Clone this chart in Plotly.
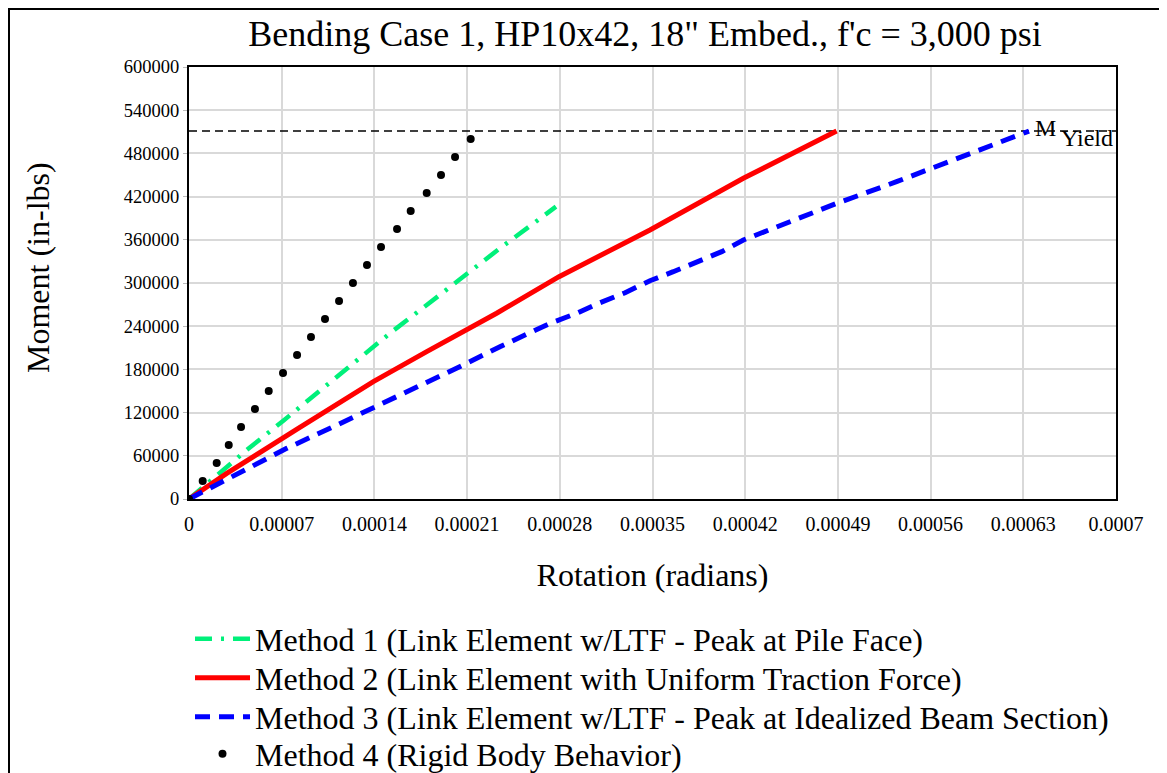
import plotly.graph_objects as go

# ---- data ----
m1_rot = [0, 4.36e-5, 7.12e-5, 1.523e-4, 1.795e-4, 2.341e-4, 2.771e-4]
m1_mom = [0, 68000, 108700, 231000, 269400, 347200, 406000]

m2_rot = [0, 2.85e-5, 8.13e-5, 1.392e-4, 1.795e-4, 2.323e-4, 2.794e-4, 3.481e-4, 4.186e-4, 4.362e-4, 4.89e-4]
m2_mom = [0, 35600, 96800, 163000, 204600, 258000, 308800, 373600, 445400, 461600, 511000]

m3_rot = [0, 1.84e-5, 3.85e-5, 7.38e-5, 1.09e-4, 1.442e-4, 1.694e-4, 2.071e-4, 2.348e-4, 2.726e-4,
          2.927e-4, 3.103e-4, 3.293e-4, 3.481e-4, 3.657e-4, 3.834e-4, 4.023e-4, 4.186e-4, 4.891e-4,
          5.343e-4, 5.797e-4, 6.25e-4, 6.343e-4]
m3_mom = [0, 17100, 35700, 70400, 100400, 130600, 153700, 186100, 211500, 244000,
          257900, 272600, 286500, 303200, 315700, 329600, 343500, 359700, 410600,
          440700, 473200, 505600, 511000]

m4_rot = [0, 1.034e-5, 2.09e-5, 3.0e-5, 3.93e-5, 4.98e-5, 6.02e-5, 7.10e-5, 8.16e-5, 9.21e-5,
          1.027e-4, 1.133e-4, 1.238e-4, 1.344e-4, 1.450e-4, 1.571e-4, 1.674e-4, 1.795e-4,
          1.903e-4, 2.009e-4, 2.127e-4]
m4_mom = [0, 25000, 50000, 75000, 100000, 125000, 150000, 175000, 200000, 225000,
          250000, 275000, 300000, 325000, 350000, 375000, 400000, 425000,
          450000, 475000, 500000]

m_yield = 511000
x_range = [0, 0.0007]

x_tickvals = [0, 0.00007, 0.00014, 0.00021, 0.00028, 0.00035, 0.00042, 0.00049, 0.00056, 0.00063, 0.0007]
x_ticktext = ["0", "0.00007", "0.00014", "0.00021", "0.00028", "0.00035", "0.00042",
              "0.00049", "0.00056", "0.00063", "0.0007"]
y_tickvals = [0, 60000, 120000, 180000, 240000, 300000, 360000, 420000, 480000, 540000, 600000]
y_ticktext = [str(v) for v in y_tickvals]

names = [
    "Method 1 (Link Element w/LTF - Peak at Pile Face)",
    "Method 2 (Link Element with Uniform Traction Force)",
    "Method 3 (Link Element w/LTF - Peak at Idealized Beam Section)",
    "Method 4 (Rigid Body Behavior)",
]

FONT = "Liberation Serif"
W, H = 1159, 765          # page body has an 8px margin
L, R, T, B = 181, 51, 59, 274
PH = H - T - B

fig = go.Figure()

fig.add_trace(go.Scatter(x=x_range, y=[m_yield, m_yield], mode="lines",
                         line=dict(color="black", width=1.5, dash="8px,5px"),
                         showlegend=False, hoverinfo="skip"))

fig.add_trace(go.Scatter(x=m1_rot, y=m1_mom, mode="lines", name=names[0], legend="legend",
                         line=dict(color="#00F07A", width=4.5, dash="17px,9px,3px,9px")))
fig.add_trace(go.Scatter(x=m2_rot, y=m2_mom, mode="lines", name=names[1], legend="legend2",
                         line=dict(color="#FF0000", width=5)))
fig.add_trace(go.Scatter(x=m3_rot, y=m3_mom, mode="lines", name=names[2], legend="legend3",
                         line=dict(color="#0000FF", width=5, dash="15px,9px")))
fig.add_trace(go.Scatter(x=m4_rot, y=m4_mom, mode="markers", name=names[3], legend="legend4",
                         marker=dict(color="black", size=8)))

# M_Yield label
fig.add_annotation(x=0.000636, y=m_yield, xref="x", yref="y", xanchor="left", yanchor="middle",
                   text="M", showarrow=False, xshift=2, yshift=3,
                   font=dict(family=FONT, size=24, color="black"))
fig.add_annotation(x=0.000636, y=m_yield, xref="x", yref="y", xanchor="left", yanchor="middle",
                   text="Yield", showarrow=False, xshift=28, yshift=-7,
                   font=dict(family=FONT, size=24, color="black"))

# y-axis title
fig.add_annotation(x=(30 - L) / (W - L - R), y=(T + PH - 260) / PH, xref="paper", yref="paper",
                   text="Moment (in-lbs)", textangle=-90, showarrow=False,
                   xanchor="center", yanchor="middle",
                   font=dict(family=FONT, size=32, color="black"))

# outer frame of the picture
fig.add_shape(type="rect", xref="paper", yref="paper",
              x0=(1 - L) / (W - L - R), x1=1.08, y0=-0.7, y1=1 + (T - 1) / PH,
              line=dict(color="black", width=2), layer="below")

leg_common = dict(x=(182 - L) / (W - L - R), xanchor="left", yanchor="middle", yref="container",
                  font=dict(family=FONT, size=32, color="black"),
                  bgcolor="rgba(0,0,0,0)", itemwidth=55, tracegroupgap=0)
row_y = [631, 670, 709, 746]

fig.update_layout(
    width=W, height=H,
    margin=dict(l=L, r=R, t=T, b=B),
    paper_bgcolor="white", plot_bgcolor="white",
    font=dict(family=FONT, color="black"),
    title=dict(text="Bending Case 1, HP10x42, 18\" Embed., f'c = 3,000 psi",
               x=0.492, xref="paper", xanchor="center",
               y=1 - 25 / H, yref="container", yanchor="middle",
               font=dict(family=FONT, size=36, color="black")),
    showlegend=True,
    legend=dict(y=1 - row_y[0] / H, **leg_common),
    legend2=dict(y=1 - row_y[1] / H, **leg_common),
    legend3=dict(y=1 - row_y[2] / H, **leg_common),
    legend4=dict(y=1 - row_y[3] / H, **leg_common),
)

fig.update_xaxes(range=x_range, tickvals=x_tickvals, ticktext=x_ticktext,
                 showgrid=True, gridcolor="#D9D9D9", gridwidth=1.5,
                 showline=True, linecolor="black", linewidth=2, mirror=True,
                 ticks="", zeroline=False, ticklabelstandoff=6,
                 tickfont=dict(family=FONT, size=20, color="black"),
                 title=dict(text="Rotation (radians)", standoff=30,
                            font=dict(family=FONT, size=32, color="black")))
fig.update_yaxes(range=[0, 600000], tickvals=y_tickvals, ticktext=y_ticktext,
                 showgrid=True, gridcolor="#D9D9D9", gridwidth=1.5,
                 showline=True, linecolor="black", linewidth=2, mirror=True,
                 ticks="outside", ticklen=4, tickcolor="#BBBBBB", zeroline=False,
                 tickfont=dict(family=FONT, size=18.5, color="black"))

fig.write_html("out.html")
